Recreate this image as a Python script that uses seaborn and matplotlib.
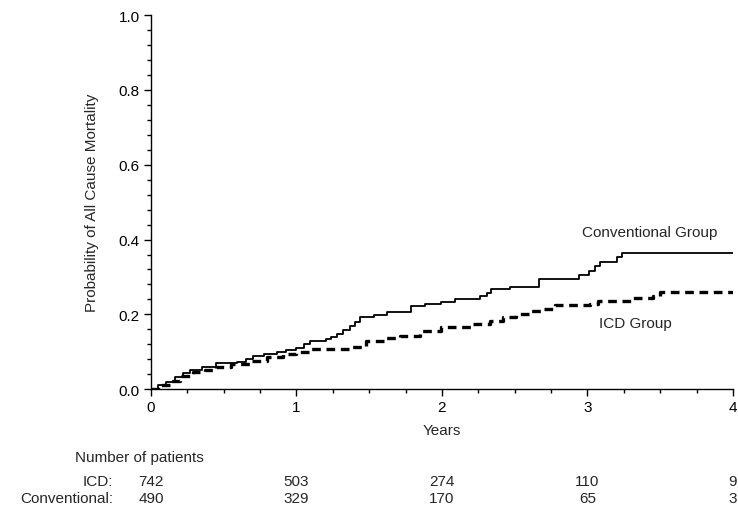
import pandas as pd
import matplotlib
matplotlib.use("Agg")
import matplotlib.pyplot as plt
import seaborn as sns
from matplotlib.ticker import MultipleLocator, FormatStrFormatter
from matplotlib.transforms import blended_transform_factory

# Kaplan-Meier style step data
conv_years = [0, 0.05, 0.1, 0.165, 0.22, 0.268, 0.35, 0.45, 0.589, 0.65, 0.70, 0.78,
              0.864, 0.93, 1.0, 1.05, 1.09, 1.2, 1.24, 1.276, 1.32, 1.37, 1.40, 1.436,
              1.53, 1.62, 1.79, 1.88, 1.99, 2.09, 2.26, 2.31, 2.34, 2.47, 2.67, 2.94,
              3.01, 3.05, 3.086, 3.2, 3.24, 4.0]
conv_prob = [0, 0.01, 0.02, 0.033, 0.042, 0.052, 0.06, 0.069, 0.073, 0.08, 0.089, 0.093,
             0.098, 0.104, 0.111, 0.12, 0.129, 0.134, 0.14, 0.147, 0.158, 0.169, 0.18, 0.192,
             0.199, 0.207, 0.223, 0.228, 0.232, 0.241, 0.25, 0.258, 0.267, 0.274, 0.294, 0.306,
             0.316, 0.328, 0.34, 0.354, 0.365, 0.365]

icd_years = [0, 0.06, 0.13, 0.2, 0.29, 0.37, 0.45, 0.55, 0.68, 0.8, 0.91, 1.0, 1.09,
             1.37, 1.48, 1.6, 1.71, 1.85, 1.99, 2.21, 2.33, 2.42, 2.51, 2.6, 2.69, 2.78,
             3.02, 3.07, 3.31, 3.45, 3.5, 4.0]
icd_prob = [0, 0.01, 0.022, 0.034, 0.045, 0.052, 0.058, 0.066, 0.076, 0.085, 0.094, 0.1, 0.107,
            0.113, 0.129, 0.136, 0.143, 0.155, 0.165, 0.174, 0.183, 0.192, 0.2, 0.209, 0.214, 0.225,
            0.227, 0.236, 0.245, 0.25, 0.261, 0.261]

# Numbers at risk
risk_years = [0, 1, 2, 3, 4]
risk_icd = [742, 503, 274, 110, 9]
risk_conv = [490, 329, 170, 65, 3]

conv_df = pd.DataFrame({"Years": conv_years, "Prob": conv_prob})
icd_df = pd.DataFrame({"Years": icd_years, "Prob": icd_prob})

sns.set_style("ticks")
plt.rcParams["font.family"] = ["Liberation Sans", "DejaVu Sans"]
fs = 11

fig = plt.figure(figsize=(7.38, 5.06), dpi=100)
ax = fig.add_axes([0.2046, 0.229, 0.7886, 0.739])

sns.lineplot(data=conv_df, x="Years", y="Prob", ax=ax, color="black", linewidth=1.3,
             drawstyle="steps-post", estimator=None, sort=False)
sns.lineplot(data=icd_df, x="Years", y="Prob", ax=ax, color="black", linewidth=2.4,
             drawstyle="steps-post", estimator=None, sort=False, dashes=False,
             linestyle=(0, (2.6, 1.7)))

ax.set_xlim(0, 4)
ax.set_ylim(0, 1.0)
ax.xaxis.set_major_locator(MultipleLocator(1))
ax.xaxis.set_minor_locator(MultipleLocator(0.25))
ax.yaxis.set_major_locator(MultipleLocator(0.2))
ax.yaxis.set_minor_locator(MultipleLocator(0.04))
ax.yaxis.set_major_formatter(FormatStrFormatter("%.1f"))
ax.tick_params(which="major", length=5, width=1, labelsize=fs, colors="black", pad=3)
ax.tick_params(which="minor", length=3, width=1, colors="black")
for side in ["top", "right"]:
    ax.spines[side].set_visible(False)
for side in ["left", "bottom"]:
    ax.spines[side].set_color("black")
    ax.spines[side].set_linewidth(1)

ax.set_xlabel("Years", fontsize=fs, labelpad=6)
ax.set_ylabel("Probability of All Cause Mortality", fontsize=fs, labelpad=14)

ax.text(3.43, 0.42, "Conventional Group", fontsize=fs, ha="center", va="center")
ax.text(3.33, 0.176, "ICD Group", fontsize=fs, ha="center", va="center")

# at-risk table
trans = blended_transform_factory(ax.transData, fig.transFigure)
fig.text(0.102, 0.094, "Number of patients", fontsize=fs, ha="left", va="center")
fig.text(0.153, 0.047, "ICD:", fontsize=fs, ha="right", va="center")
fig.text(0.153, 0.014, "Conventional:", fontsize=fs, ha="right", va="center")
for x, a, b in zip(risk_years, risk_icd, risk_conv):
    ax.text(x, 0.047, str(a), transform=trans, fontsize=fs, ha="center", va="center")
    ax.text(x, 0.014, str(b), transform=trans, fontsize=fs, ha="center", va="center")

fig.savefig("out.png", dpi=100)
